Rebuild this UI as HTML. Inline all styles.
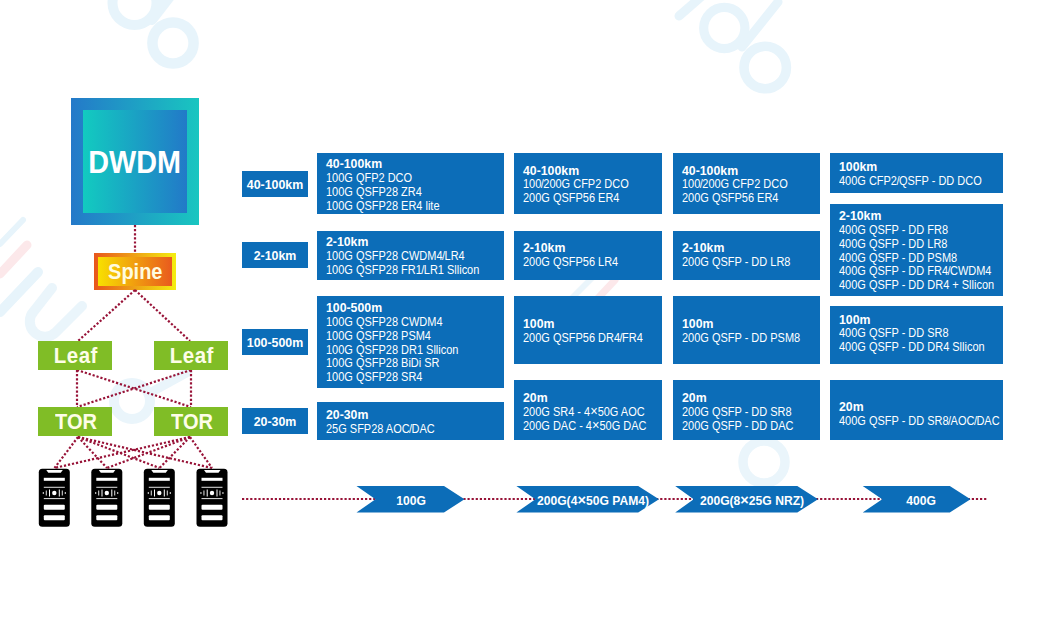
<!DOCTYPE html>
<html><head><meta charset="utf-8">
<style>
html,body{margin:0;padding:0;background:#fff;}
body{width:1042px;height:625px;position:relative;overflow:hidden;font-family:"Liberation Sans",sans-serif;}
.abs{position:absolute;}
svg.full{position:absolute;left:0;top:0;}
.box{position:absolute;background:#0c6db8;color:#fff;box-sizing:border-box;padding-left:9px;}
.box b{font-weight:700;font-size:12.3px;line-height:13.75px;white-space:nowrap;display:block;}
.box span{font-size:12px;line-height:13.75px;white-space:nowrap;display:block;transform:scaleX(0.915);transform-origin:0 50%;}
.box u{text-decoration:none;margin:0 -0.6px;}
.box i{font-style:normal;font-size:14px;line-height:10px;}
.lbl{position:absolute;background:#0c6db8;color:#fff;width:66px;height:26.4px;left:242px;font-weight:700;font-size:12.4px;line-height:28px;text-align:center;white-space:nowrap;}
.green{position:absolute;background:#80bd26;color:#fdfde8;font-weight:700;width:74px;height:29px;text-align:center;line-height:29px;}
.green i{font-style:normal;display:inline-block;font-size:22px;transform:scaleX(0.95);}
.green i.lf{letter-spacing:0.6px;transform:scaleX(0.93);margin-left:2px;}
.green i.tr{transform:scaleX(0.91);margin-left:3px;}
.chev{position:absolute;color:#fff;font-weight:700;font-size:12.5px;line-height:14px;white-space:nowrap;transform:translateX(-50%) scaleX(0.97);top:494px;}
.chev i{font-style:normal;font-size:15px;line-height:10px;}
</style></head><body>
<!-- watermark (faint) -->
<svg class="full" width="1042" height="625">
 <g fill="none" stroke="#e7f4fb" stroke-linecap="round">
  <circle cx="173" cy="43" r="20.6" stroke-width="10.5"/>
  <circle cx="134.5" cy="3" r="22" stroke-width="10"/>
  <line x1="152" y1="20" x2="172" y2="-6" stroke-width="10"/>
  <circle cx="765.2" cy="67.5" r="21.2" stroke-width="9.6"/>
  <circle cx="724.3" cy="28" r="20.6" stroke-width="9.2"/>
  <line x1="742" y1="47" x2="778" y2="2" stroke-width="9"/>
  <line x1="679" y1="16" x2="702" y2="-4" stroke-width="9"/>
  <circle cx="132" cy="401" r="18" stroke-width="10" stroke="#eaf5fb"/>
  <line x1="148" y1="394" x2="188" y2="372" stroke-width="9" stroke="#eaf5fb"/>
  <circle cx="764" cy="462" r="21" stroke-width="9.5" stroke="#eaf5fb"/>
  <line x1="23" y1="220" x2="0" y2="244" stroke-width="6"/>
  <line x1="27" y1="245" x2="0" y2="274" stroke-width="9" stroke="#fce8ea"/>
  <line x1="38" y1="272" x2="0" y2="312" stroke-width="10"/>
  <path d="M 52,288 L 34,311 A 14 14 0 0 0 56,332 L 82,306" stroke-width="10" stroke="#eaf5fb"/>
  <line x1="615" y1="280" x2="585" y2="312" stroke-width="7" stroke="#fce8ea"/>
  <line x1="600" y1="270" x2="565" y2="305" stroke-width="6" stroke="#eaf5fb"/>
 </g>
</svg>

<!-- DWDM -->
<div class="abs" style="left:71px;top:98px;width:128px;height:127px;background:linear-gradient(90deg,#2479c9,#19c6c0);"></div>
<div class="abs" style="left:83px;top:110px;width:104px;height:103px;background:linear-gradient(90deg,#12cbc0,#2279c8);"></div>
<div class="abs" style="left:71px;top:144px;width:128px;text-align:center;color:#fff;font-weight:700;font-size:32px;line-height:36px;"><i style="font-style:normal;display:inline-block;transform:scaleX(0.9)">DWDM</i></div>

<!-- Spine -->
<div class="abs" style="left:94px;top:253px;width:82px;height:37px;background:linear-gradient(90deg,#e8561c,#f4ee10);"></div>
<div class="abs" style="left:98px;top:257px;width:74px;height:29px;background:linear-gradient(90deg,#f8e000,#e95a1e);"></div>
<div class="abs" style="left:94px;top:258px;width:82px;height:29px;text-align:center;color:#fffbe0;font-weight:700;font-size:21.5px;line-height:29px;"><i style="font-style:normal;display:inline-block;transform:scaleX(0.93)">Spine</i></div>

<!-- network lines -->
<svg class="full" width="1042" height="625">
 <g stroke="#981338" stroke-width="2.2" stroke-dasharray="2.2 1.9" fill="none">
  <line x1="135" y1="225" x2="135" y2="253"/>
  <line x1="135" y1="290" x2="78" y2="341"/>
  <line x1="135" y1="290" x2="190" y2="341"/>
  <line x1="77" y1="370" x2="77" y2="407"/>
  <line x1="77" y1="370" x2="191" y2="407"/>
  <line x1="191" y1="370" x2="191" y2="407"/>
  <line x1="191" y1="370" x2="77" y2="407"/>
  <line x1="78" y1="437" x2="54.5" y2="468"/>
  <line x1="78" y1="437" x2="107" y2="468"/>
  <line x1="78" y1="437" x2="159.5" y2="468"/>
  <line x1="78" y1="437" x2="212" y2="468"/>
  <line x1="190" y1="437" x2="54.5" y2="468"/>
  <line x1="190" y1="437" x2="107" y2="468"/>
  <line x1="190" y1="437" x2="159.5" y2="468"/>
  <line x1="190" y1="437" x2="212" y2="468"/>
  <line x1="242" y1="499" x2="987" y2="499" stroke-width="2.2"/>
 </g>
 <defs>
  <g id="srv">
   <rect x="0" y="0" width="31" height="58" rx="3.5" fill="#000"/>
   <polygon points="7.5,1.2 24,1.2 22,4 9.5,4" fill="#fff"/>
   <rect x="5" y="9" width="21" height="3" fill="#fff"/>
   <rect x="5" y="18" width="21" height="0.9" fill="#fff"/>
   <rect x="5" y="29.4" width="21" height="0.9" fill="#fff"/>
   <circle cx="15.5" cy="24.2" r="2.2" fill="#fff"/>
   <rect x="4" y="23.2" width="0.9" height="2" fill="#fff"/>
   <rect x="7" y="21.7" width="0.9" height="5" fill="#fff"/>
   <rect x="10.2" y="20.7" width="1" height="7" fill="#fff"/>
   <rect x="20" y="20.7" width="1" height="7" fill="#fff"/>
   <rect x="23" y="21.7" width="0.9" height="5" fill="#fff"/>
   <rect x="26" y="23.2" width="0.9" height="2" fill="#fff"/>
   <rect x="5" y="36" width="21" height="5" rx="1" fill="#fff"/>
   <rect x="5" y="46.5" width="21" height="5" rx="1" fill="#fff"/>
  </g>
 </defs>
 <use href="#srv" x="38.8" y="468.8"/>
 <use href="#srv" x="91.3" y="468.8"/>
 <use href="#srv" x="143.8" y="468.8"/>
 <use href="#srv" x="196.5" y="468.8"/>
 <g fill="#0c6db8">
  <polygon points="356.5,486 444,486 464.5,499.2 444,512.5 356.5,512.5 375.5,499.2"/>
  <polygon points="516.4,486 638.2,486 659,499.2 638.2,512.5 516.4,512.5 535.4,499.2"/>
  <polygon points="675.2,486 797.3,486 818,499.2 797.3,512.5 675.2,512.5 693.7,499.2"/>
  <polygon points="862.7,486 949.8,486 970.5,499.2 949.8,512.5 862.7,512.5 882.2,499.2"/>
 </g>
</svg>

<!-- Leaf / TOR -->
<div class="green" style="left:38px;top:341px;"><i class="lf">Leaf</i></div>
<div class="green" style="left:154px;top:341px;"><i class="lf">Leaf</i></div>
<div class="green" style="left:38px;top:407px;"><i class="tr">TOR</i></div>
<div class="green" style="left:154px;top:407px;"><i class="tr">TOR</i></div>

<!-- chevron labels -->
<div class="chev" style="left:411px;">100G</div>
<div class="chev" style="left:593px;">200G(4<i>×</i>50G PAM4)</div>
<div class="chev" style="left:752px;">200G(8<i>×</i>25G NRZ)</div>
<div class="chev" style="left:920.6px;">400G</div>


<!-- range labels -->
<div class="lbl" style="top:170.5px;">40-100km</div>
<div class="lbl" style="top:241.8px;">2-10km</div>
<div class="lbl" style="top:329px;">100-500m</div>
<div class="lbl" style="top:407.8px;">20-30m</div>

<!-- product boxes -->
<div class="box" style="left:317px;top:153px;width:187px;height:61px;padding-top:5.30px;"><b>40-100km</b><span>100G QFP2 DCO</span><span>100G QSFP28 ZR4</span><span>100G QSFP28 ER4 lite</span></div>
<div class="box" style="left:317px;top:231px;width:187px;height:48.5px;padding-top:5.30px;"><b>2-10km</b><span>100G QSFP28 CWDM4<u>/</u>LR4</span><span>100G QSFP28 FR1<u>/</u>LR1 Sllicon</span></div>
<div class="box" style="left:317px;top:296px;width:187px;height:92px;padding-top:6.35px;"><b>100-500m</b><span>100G QSFP28 CWDM4</span><span>100G QSFP28 PSM4</span><span>100G QSFP28 DR1 Sllicon</span><span>100G QSFP28 BiDi SR</span><span>100G QSFP28 SR4</span></div>
<div class="box" style="left:317px;top:402px;width:187px;height:38px;padding-top:7.10px;"><b>20-30m</b><span>25G SFP28 AOC<u>/</u>DAC</span></div>
<div class="box" style="left:514px;top:153px;width:147.5px;height:61px;padding-top:11.50px;"><b>40-100km</b><span>100<u>/</u>200G CFP2 DCO</span><span>200G QSFP56 ER4</span></div>
<div class="box" style="left:514px;top:231px;width:147.5px;height:48.5px;padding-top:11.20px;"><b>2-10km</b><span>200G QSFP56 LR4</span></div>
<div class="box" style="left:514px;top:296px;width:147.5px;height:67.5px;padding-top:22.40px;"><b>100m</b><span>200G QSFP56 DR4<u>/</u>FR4</span></div>
<div class="box" style="left:514px;top:380px;width:147.5px;height:59.5px;padding-top:12.40px;"><b>20m</b><span>200G SR4 - 4<i>×</i>50G AOC</span><span>200G DAC - 4<i>×</i>50G DAC</span></div>
<div class="box" style="left:673px;top:153px;width:147px;height:61px;padding-top:11.50px;"><b>40-100km</b><span>100<u>/</u>200G CFP2 DCO</span><span>200G QSFP56 ER4</span></div>
<div class="box" style="left:673px;top:231px;width:147px;height:48.5px;padding-top:11.20px;"><b>2-10km</b><span>200G QSFP - DD LR8</span></div>
<div class="box" style="left:673px;top:296px;width:147px;height:67.5px;padding-top:22.40px;"><b>100m</b><span>200G QSFP - DD PSM8</span></div>
<div class="box" style="left:673px;top:380px;width:147px;height:59.5px;padding-top:12.40px;"><b>20m</b><span>200G QSFP - DD SR8</span><span>200G QSFP - DD DAC</span></div>
<div class="box" style="left:830px;top:153px;width:173px;height:40px;padding-top:8.15px;"><b>100km</b><span>400G CFP2<u>/</u>QSFP - DD DCO</span></div>
<div class="box" style="left:830px;top:204px;width:173px;height:92px;padding-top:6.40px;"><b>2-10km</b><span>400G QSFP - DD FR8</span><span>400G QSFP - DD LR8</span><span>400G QSFP - DD PSM8</span><span>400G QSFP - DD FR4<u>/</u>CWDM4</span><span>400G QSFP - DD DR4 + Sllicon</span></div>
<div class="box" style="left:830px;top:306px;width:173px;height:58px;padding-top:7.55px;"><b>100m</b><span>400G QSFP - DD SR8</span><span>400G QSFP - DD DR4 Sllicon</span></div>
<div class="box" style="left:830px;top:380px;width:173px;height:60px;padding-top:20.75px;"><b>20m</b><span>400G QSFP - DD SR8<u>/</u>AOC<u>/</u>DAC</span></div>
</body></html>
